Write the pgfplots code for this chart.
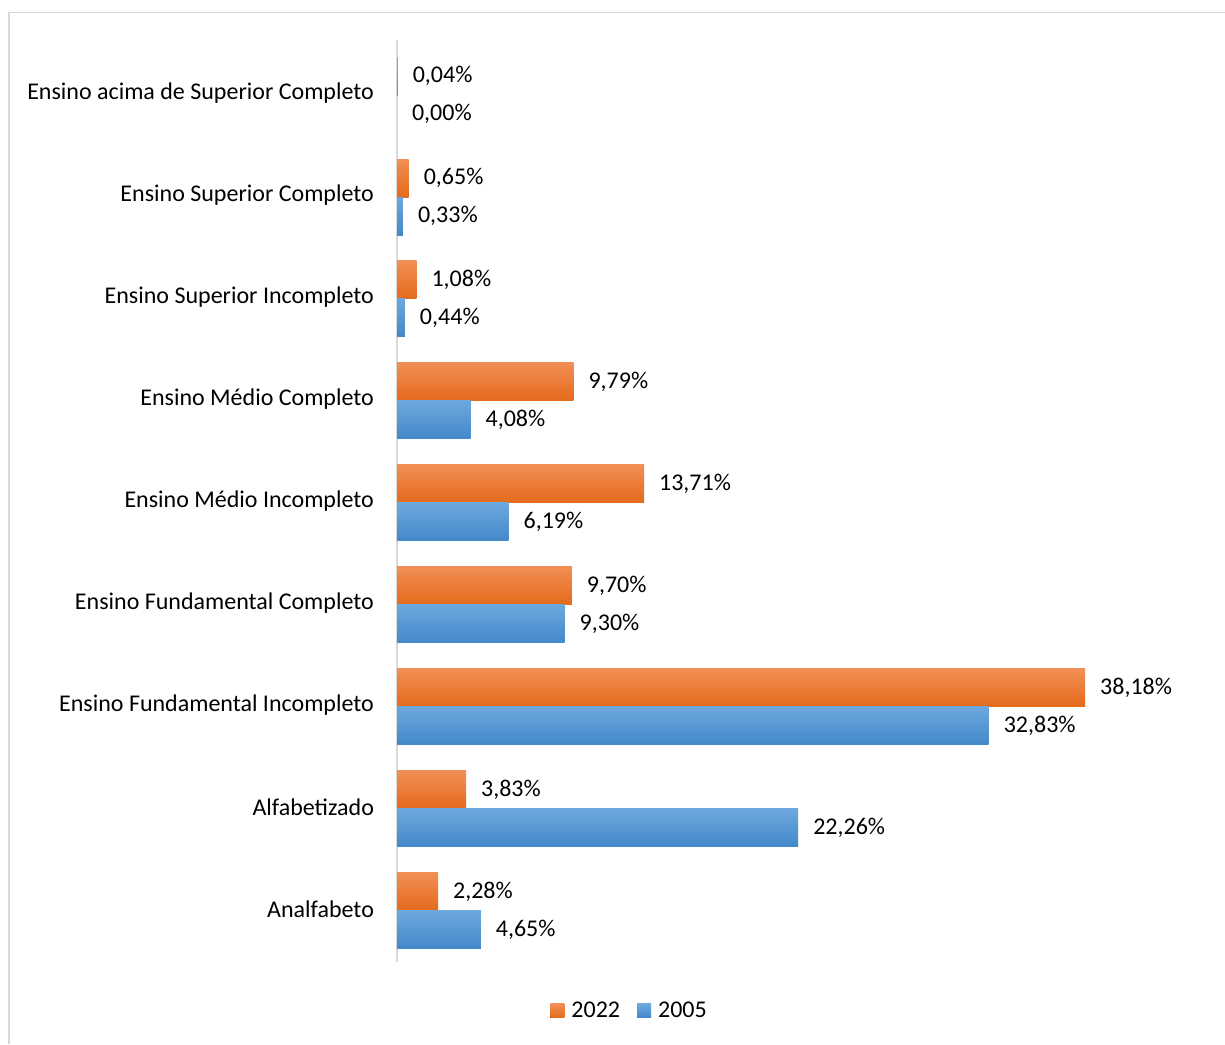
\documentclass[border=0pt]{standalone}
\usepackage{pgfplots}
\pgfplotsset{compat=1.18}
\usepackage{fontspec}
\setmainfont{Carlito}
\definecolor{orT}{HTML}{F28E55}
\definecolor{orB}{HTML}{E36A1A}
\definecolor{blT}{HTML}{6CA8DE}
\definecolor{blB}{HTML}{4288CA}
\definecolor{gridg}{HTML}{D9D9D9}
\pgfplotsset{
  orbar/.style={draw=none, top color=orT, bottom color=orB, bar shift=8.5pt},
  blbar/.style={draw=none, top color=blT, bottom color=blB, bar shift=-10.5pt},
}
\begin{document}
\begin{tikzpicture}
\path[use as bounding box] (0,0) rectangle (612.5pt,522pt);
\draw[gridg, line width=0.8pt] (4.5pt,0) -- (4.5pt,515.75pt) -- (612.5pt,515.75pt);
\begin{axis}[
  at={(198.5pt,41pt)}, anchor=south west,
  scale only axis, width=396.5pt, height=461pt,
  xmin=0, xmax=44, ymin=-0.52, ymax=8.52,
  hide x axis,
  axis y line*=left,
  y axis line style={gridg, line width=1pt, -},
  ytick={0,...,8},
  yticklabels={Analfabeto,Alfabetizado,Ensino Fundamental Incompleto,Ensino Fundamental Completo,Ensino Médio Incompleto,Ensino Médio Completo,Ensino Superior Incompleto,Ensino Superior Completo,Ensino acima de Superior Completo},
  major tick length=0pt,
  yticklabel style={font=\fontsize{12}{14}\selectfont, xshift=-8pt},
  xbar, bar width=19pt,
  nodes near coords={\pgfmathprintnumber[fixed,fixed zerofill,precision=2,use comma,assume math mode=true]{\pgfplotspointmeta}\%},
  nodes near coords style={font=\fontsize{12}{14}\selectfont, anchor=west, xshift=4pt, black},
  point meta=explicit,
  legend style={at={(0.2965,-0.053)}, anchor=center, draw=none, legend columns=2, font=\fontsize{12}{14}\selectfont, /tikz/every even column/.append style={column sep=5pt}, nodes={inner xsep=3.5pt}},
  legend image code/.code={\fill[#1] (0pt,-3.5pt) rectangle (7pt,3.5pt);},
]
% 2022
\addplot[orbar] coordinates {(2.28,0) [2.28]};
\addlegendentry{2022}
\addplot[orbar, forget plot] coordinates {(3.83,1) [3.83]};
\addplot[orbar, forget plot] coordinates {(38.18,2) [38.18]};
\addplot[orbar, forget plot] coordinates {(9.70,3) [9.70]};
\addplot[orbar, forget plot] coordinates {(13.71,4) [13.71]};
\addplot[orbar, forget plot] coordinates {(9.79,5) [9.79]};
\addplot[orbar, forget plot] coordinates {(1.08,6) [1.08]};
\addplot[orbar, forget plot] coordinates {(0.65,7) [0.65]};
\addplot[orbar, forget plot] coordinates {(0.04,8) [0.04]};
% 2005
\addplot[blbar] coordinates {(4.65,0) [4.65]};
\addlegendentry{2005}
\addplot[blbar, forget plot] coordinates {(22.26,1) [22.26]};
\addplot[blbar, forget plot] coordinates {(32.83,2) [32.83]};
\addplot[blbar, forget plot] coordinates {(9.30,3) [9.30]};
\addplot[blbar, forget plot] coordinates {(6.19,4) [6.19]};
\addplot[blbar, forget plot] coordinates {(4.08,5) [4.08]};
\addplot[blbar, forget plot] coordinates {(0.44,6) [0.44]};
\addplot[blbar, forget plot] coordinates {(0.33,7) [0.33]};
\addplot[blbar, forget plot] coordinates {(0.00,8) [0.00]};
\end{axis}
\end{tikzpicture}
\end{document}
